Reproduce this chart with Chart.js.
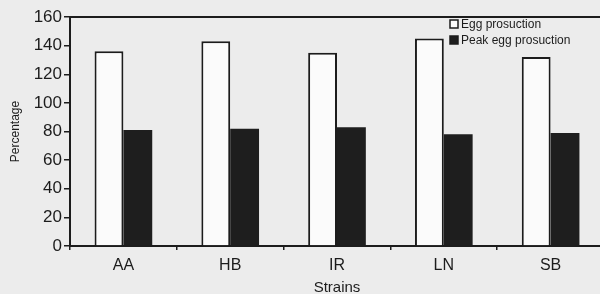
<!DOCTYPE html>
<html>
<head>
<meta charset="utf-8">
<script src="https://cdn.jsdelivr.net/npm/chart.js@4.4.0/dist/chart.umd.min.js"></script>
<style>
  body { margin: 0; background: #ececec; overflow: hidden; }
  #wrap { width: 600px; height: 294px; overflow: hidden; }
</style>
</head>
<body>
<div id="wrap"><canvas id="myChart" width="606" height="297"></canvas></div>
<script>
var strains = ["AA", "HB", "IR", "LN", "SB"]
var eggProduction = [136, 143, 135, 145, 132]
var peakEggProduction = [81, 82, 83, 78, 79]
var yTicks = [0, 20, 40, 60, 80, 100, 120, 140, 160]

var ink = "#1c1c1c"
var font = "'Liberation Sans', Arial, sans-serif"

// top frame line and the legend inside the plot, like the scanned figure
var framePlugin = {
    id: "frame",
    afterDraw: function(chart){
        var ctx = chart.ctx
        var a = chart.chartArea
        ctx.save()
        ctx.strokeStyle = ink
        ctx.lineWidth = 2
        ctx.beginPath()
        ctx.moveTo(a.left, a.top)
        ctx.lineTo(a.right, a.top)
        ctx.stroke()

        // legend
        ctx.font = "12px " + font
        ctx.textBaseline = "middle"
        var x = 450, y = 24
        chart.data.datasets.forEach(function(ds, i){
            var yy = y + i * 16
            ctx.fillStyle = ds.backgroundColor
            ctx.fillRect(x, yy - 4, 8, 8)
            ctx.lineWidth = 1.5
            ctx.strokeStyle = ink
            ctx.strokeRect(x, yy - 4, 8, 8)
            ctx.fillStyle = ink
            ctx.fillText(ds.label, x + 11, yy + 1)
        })
        ctx.restore()
    }
}

var chart = new Chart(document.getElementById("myChart"), {
    type: "bar",
    data: {
        labels: strains,
        datasets: [
            {
                label: "Egg prosuction",
                data: eggProduction,
                backgroundColor: "#fbfbfb",
                borderColor: ink,
                borderWidth: 2,
                borderSkipped: "bottom"
            },
            {
                label: "Peak egg prosuction",
                data: peakEggProduction,
                backgroundColor: "#1e1e1e",
                borderColor: ink,
                borderWidth: 0
            }
        ]
    },
    options: {
        responsive: false,
        animation: false,
        layout: { padding: { left: 6, right: 2, top: 17 } },
        plugins: {
            legend: { display: false },
            tooltip: { enabled: false }
        },
        datasets: {
            bar: { categoryPercentage: 0.54, barPercentage: 1 }
        },
        scales: {
            x: {
                grid: {
                    display: true,
                    offset: true,
                    drawOnChartArea: false,
                    tickLength: 4,
                    color: ink,
                    lineWidth: 1.5
                },
                border: { color: ink, width: 2 },
                ticks: { color: ink, font: { family: font, size: 16 }, padding: 6 },
                title: {
                    display: true,
                    text: "Strains",
                    color: ink,
                    font: { family: font, size: 15 },
                    padding: { top: 0, bottom: 0 }
                },
                afterFit: function(scale){ scale.height = 51 }
            },
            y: {
                min: 0,
                max: 160,
                afterBuildTicks: function(scale){
                    scale.ticks = yTicks.map(function(v){ return { value: v } })
                },
                grid: {
                    display: true,
                    drawOnChartArea: false,
                    tickLength: 6,
                    color: ink,
                    lineWidth: 1.5
                },
                border: { color: ink, width: 2 },
                ticks: { color: ink, font: { family: font, size: 17 }, padding: 2 },
                title: {
                    display: true,
                    text: "Percentage",
                    color: ink,
                    font: { family: font, size: 12 },
                    padding: { top: 2, bottom: 4 }
                },
                afterFit: function(scale){ scale.width = 64 }
            }
        }
    },
    plugins: [framePlugin]
})
</script>
</body>
</html>
